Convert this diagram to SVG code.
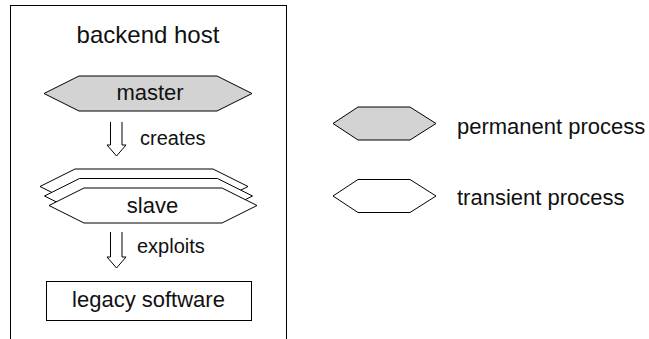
<svg xmlns="http://www.w3.org/2000/svg" width="649" height="339" viewBox="0 0 649 339">
<defs>
<style>
.ln{stroke:#000;stroke-width:1;fill:#fff}
.perm{fill:#d3d3d3}
.t{font-family:"Liberation Sans",Arial,Helvetica,sans-serif;fill:#111;font-size:22px}
.s{font-size:20px}
.m{text-anchor:middle}
.arrow{fill:#fff;stroke:#000;stroke-width:1}
</style>
<polygon id="hexBig" points="-104,0 -69,-17.5 69,-17.5 104,0 69,17.5 -69,17.5"/>
<polygon id="hexSmall" points="-51.5,0 -26.5,-16.5 25.5,-16.5 51.5,0 25.5,16.5 -26.5,16.5"/>
</defs>
<rect width="649" height="339" fill="#fff"/>
<g id="backend-host">
<rect x="10.5" y="5.5" width="276" height="400" fill="none" stroke="#000" stroke-width="1"/>
<text class="t m" x="148" y="43" style="font-size:24px">backend host</text>
</g>
<g id="master">
<use href="#hexBig" class="ln perm" transform="translate(148,93.5)"/>
<text class="t m" x="150" y="100">master</text>
</g>
<g id="slave">
<use href="#hexBig" class="ln" transform="translate(144,186.5)"/>
<use href="#hexBig" class="ln" transform="translate(148.5,196)"/>
<use href="#hexBig" class="ln" transform="translate(153,205.5)"/>
<text class="t m" x="152.5" y="213">slave</text>
</g>
<g id="legacy">
<rect x="46.5" y="281.5" width="205" height="39" class="ln"/>
<text class="t m" x="148.5" y="307">legacy software</text>
</g>
<g id="connectors">
<path class="arrow" d="M110.5,122 V145 H107 L116.5,156 L126,145 H122 V122"/>
<text class="t s" x="140" y="145">creates</text>
<path class="arrow" d="M110.5,232 V257 H107 L116.5,268 L126,257 H122 V232"/>
<text class="t s" x="137" y="253">exploits</text>
</g>
<g id="legend-permanent">
<use href="#hexSmall" class="ln perm" transform="translate(384.5,123.5)"/>
<text class="t" x="457" y="134">permanent process</text>
</g>
<g id="legend-transient">
<use href="#hexSmall" class="ln" transform="translate(384.5,196)"/>
<text class="t" x="457" y="205">transient process</text>
</g>
</svg>
